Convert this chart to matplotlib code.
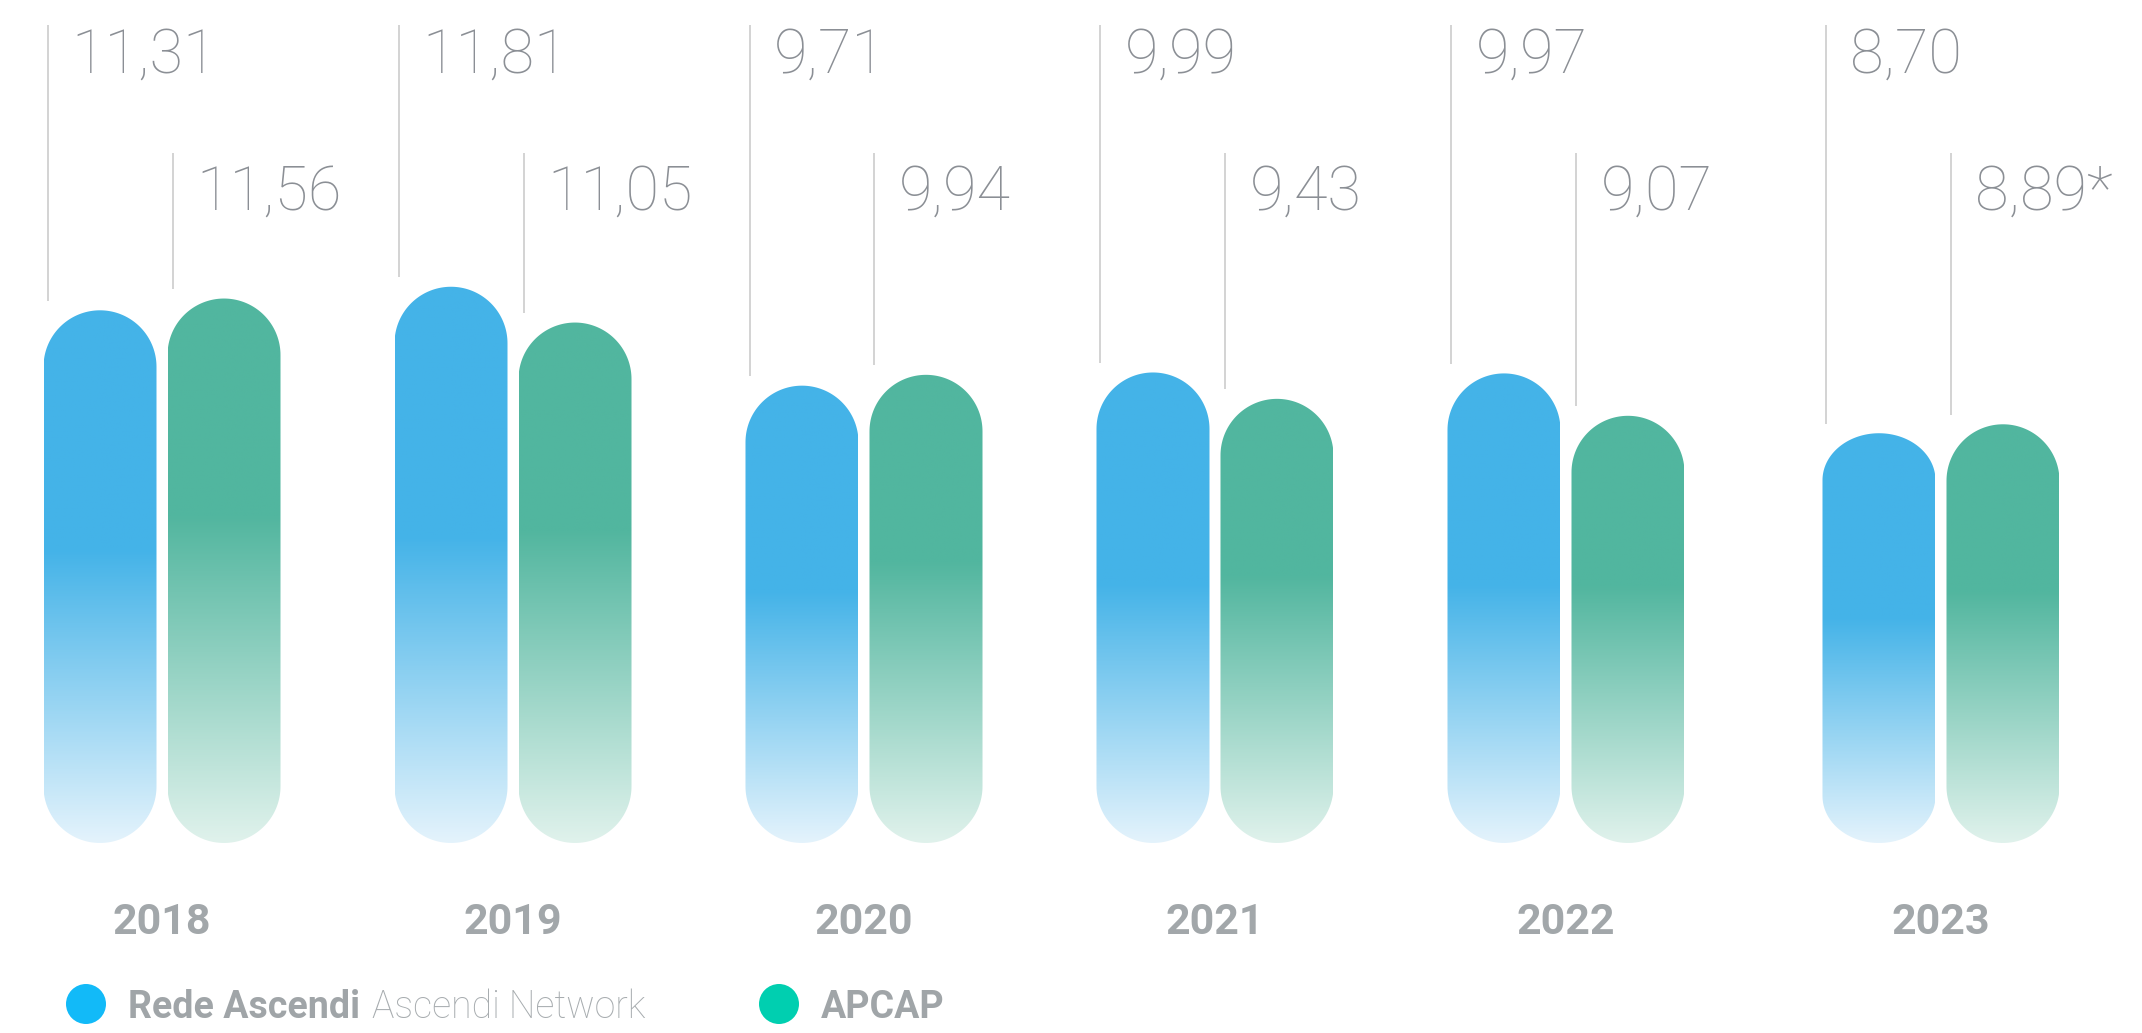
import numpy as np
import matplotlib
matplotlib.use('Agg')
import matplotlib.pyplot as plt
from matplotlib.patches import Polygon, Ellipse
from matplotlib.colors import to_rgb

# average values per year
years = ['2018', '2019', '2020', '2021', '2022', '2023']
rede = [11.31, 11.81, 9.71, 9.99, 9.97, 8.70]
apcap = [11.56, 11.05, 9.94, 9.43, 9.07, 8.89]
apcap_notes = ['', '', '', '', '', '*']

plt.rcParams['font.family'] = ['Roboto', 'DejaVu Sans']

W, H, DPI = 2142, 1033, 100
GROUP_PX = 351.0          # pixels between year groups
UNIT_PX = 47.1            # pixels per value unit
PX_X = 1 / GROUP_PX
PX_Y = 1 / UNIT_PX
BASE = 843                # pixel row of the zero line
X0 = 162                  # pixel column of the first group

fig = plt.figure(figsize=(W / DPI, H / DPI), dpi=DPI)
ax = fig.add_axes([0, 0, 1, 1])
ax.axis('off')


def px(x, y):
    # pixel position (from top left) -> data coords
    return (x - X0) * PX_X, (BASE - y) * PX_Y


def pill(xc, w, top, ry):
    rx = w / 2
    t = np.linspace(0, np.pi, 80)
    top_arc = np.column_stack([xc + rx * np.cos(t), top - ry + ry * np.sin(t)])
    bot_arc = np.column_stack([xc - rx * np.cos(t), ry - ry * np.sin(t)])
    return np.vstack([top_arc, bot_arc])


def gradient_bar(xc, w, top, ry, solid, light, fade_at):
    poly = Polygon(pill(xc, w, top, ry), closed=True, facecolor='none', edgecolor='none')
    ax.add_patch(poly)
    f = np.linspace(0, 1, 256)[:, None]
    k = np.clip(f / fade_at, 0, 1)
    c0, c1 = np.array(to_rgb(light)), np.array(to_rgb(solid))
    img = c0 + (c1 - c0) * k
    img = img[:, None, :]
    im = ax.imshow(img, extent=[xc - w / 2, xc + w / 2, 0, top], origin='lower',
                   aspect='auto', interpolation='bilinear', zorder=2)
    im.set_clip_path(poly)


bar_w = 113 * PX_X
offset = 62 * PX_X
ry = 56.5 * PX_Y
group_x = np.arange(len(years), dtype=float)
group_x[-1] += 24 * PX_X   # last group sits a little further right

blue, blue_light = '#44B3E8', '#E4F3FC'
green, green_light = '#52B69F', '#E0F2EC'
line_c = '#D0D0D0'
val_c = '#8B8F95'

top_line_y = px(0, 25)[1]
low_line_y = px(0, 153)[1]
top_text_y = px(0, 73)[1]
low_text_y = px(0, 210)[1]

for i, yr in enumerate(years):
    xb = group_x[i] - offset
    xg = group_x[i] + offset

    # 2023 Rede bar has flatter caps
    ryb = ry * (0.83 if i == len(years) - 1 else 1.0)
    gradient_bar(xb, bar_w, rede[i], ryb, blue, blue_light, 0.55)
    gradient_bar(xg, bar_w, apcap[i], ry, green, green_light, 0.60)

    # leader lines and value labels
    lb = xb - bar_w / 2 + 4 * PX_X
    lg = xg - bar_w / 2 + 5 * PX_X
    ax.plot([lb, lb], [rede[i] + 0.2, top_line_y], color=line_c, lw=1.3,
            solid_capstyle='butt', zorder=1)
    ax.plot([lg, lg], [apcap[i] + 0.2, low_line_y], color=line_c, lw=1.3,
            solid_capstyle='butt', zorder=1)

    ax.text(lb + 24 * PX_X, top_text_y, f'{rede[i]:.2f}'.replace('.', ','),
            fontsize=44, fontweight='light', color=val_c, ha='left', va='baseline')
    ax.text(lg + 24 * PX_X, low_text_y,
            f'{apcap[i]:.2f}'.replace('.', ',') + apcap_notes[i],
            fontsize=44, fontweight='light', color=val_c, ha='left', va='baseline')

    ax.text(group_x[i], px(0, 934)[1], yr, fontsize=31, fontweight='bold',
            color='#A2A7AA', ha='center', va='baseline')

# legend
leg_y = 1004
for cx, col in [(86, '#12BAF8'), (779, '#00CFB0')]:
    ax.add_patch(Ellipse(px(cx, leg_y), 40 * PX_X, 40 * PX_Y, facecolor=col,
                         edgecolor='none'))

ax.set_xlim(-X0 * PX_X, (W - X0) * PX_X)
ax.set_ylim(-(H - BASE) * PX_Y, BASE * PX_Y)

base_y = px(0, 1018)[1]
t1 = ax.text(px(128, 0)[0], base_y, 'Rede Ascendi', fontsize=27, fontweight='bold',
             color='#A0A5A8', ha='left', va='baseline')
fig.canvas.draw()
bb = t1.get_window_extent()
x_next = ax.transData.inverted().transform((bb.x1 + 12, 0))[0]
ax.text(x_next, base_y, 'Ascendi Network', fontsize=27, fontweight='light',
        color='#A7ACAF', ha='left', va='baseline')
ax.text(px(821, 0)[0], base_y, 'APCAP', fontsize=27, fontweight='bold',
        color='#A0A5A8', ha='left', va='baseline')

fig.savefig('out.png', dpi=DPI, facecolor='white')
